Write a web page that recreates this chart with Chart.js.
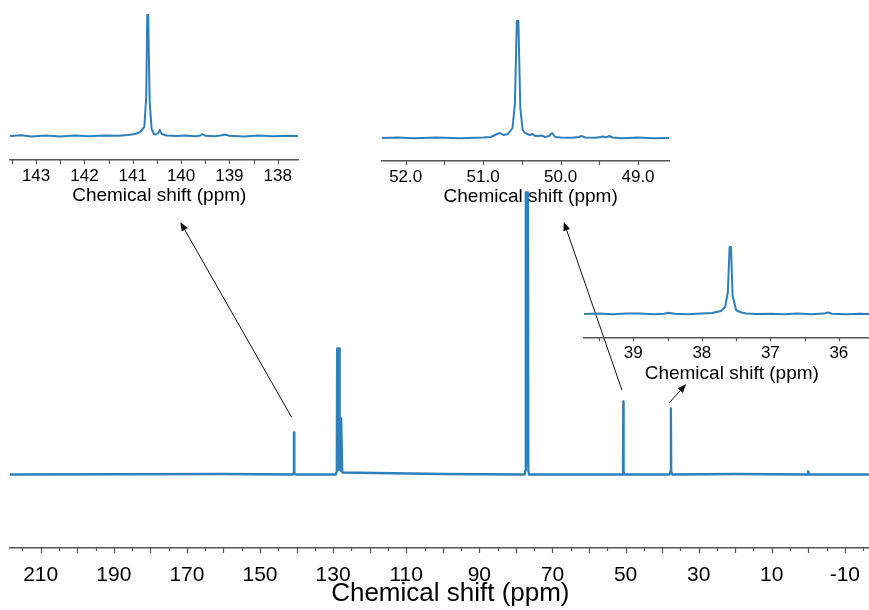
<!DOCTYPE html>
<html lang="en">
<head>
    <meta charset="UTF-8">
    <title>13C NMR spectrum</title>
    <style>
      * {
    margin: 0;
    padding: 0;
    box-sizing: border-box;
}

body {
    background: #fff;
    width: 869px;
    height: 610px;
    overflow: hidden;
}

#wrap {
    position: relative;
    width: 869px;
    height: 610px;
}

canvas {
    position: absolute;
}

#main   { left: 0;     top: 0; }
#inset1 { left: 0;     top: 0; }
#inset2 { left: 370px; top: 0; }
#inset3 { left: 580px; top: 230px; }
    </style>
</head>
<body>
    <div id="wrap">
        <canvas id="main" width="869" height="610"></canvas>
        <canvas id="inset1" width="310" height="210"></canvas>
        <canvas id="inset2" width="310" height="211"></canvas>
        <canvas id="inset3" width="289" height="157"></canvas>
    </div>
<script src="https://cdn.jsdelivr.net/npm/chart.js"></script>
    <script>
        // ---- data (ppm / intensity) ----
        const mainShift = [218.4, 160, 141.0, 140.8, 140.72, 140.68, 140.6, 140.3,
            129.3, 129.0, 128.9, 128.8, 128.6, 128.45, 128.35, 128.2, 127.9, 127.8, 127.7, 127.5,
            100, 77.6, 77.4, 77.3, 77.15, 77.0, 76.85, 76.7, 76.6, 76.4,
            60, 50.9, 50.7, 50.62, 50.58, 50.5, 50.3,
            38.0, 37.7, 37.62, 37.58, 37.5, 37.2, 20, 0.3, 0.1, 0.0, -0.2, -16.6];
        const mainIntensity = [0, 0.5, 0, 2, 42, 42, 2, 0,
            0, 3, 126, 126, 5, 126, 126, 6, 4, 56, 56, 2,
            0.5, 0, 4, 282, 10, 282, 10, 282, 4, 0,
            0, 0, 3, 73, 73, 3, 0,
            0, 3, 66, 66, 3, 0, 0.5, 0, 3, 3, 0, 0];
        const mainTickMarks = [215, 210, 205, 200, 195, 190, 185, 180, 175, 170, 165, 160, 155, 150,
            145, 140, 135, 130, 125, 120, 115, 110, 105, 100, 95, 90, 85, 80, 75, 70, 65, 60,
            55, 50, 45, 40, 35, 30, 25, 20, 15, 10, 5, 0, -5, -10, -15];
        const mainTickLabels = [210, 190, 170, 150, 130, 110, 90, 70, 50, 30, 10, -10];

        const inset1Shift = [143.54, 143.3, 143.1, 142.8, 142.5, 142.2, 141.9, 141.6, 141.3, 141.1,
            140.95, 140.85, 140.76, 140.72, 140.70, 140.68, 140.65, 140.61, 140.56, 140.52,
            140.47, 140.44, 140.40, 140.3, 140.1, 139.9, 139.7, 139.6, 139.56, 139.5, 139.3,
            139.15, 139.1, 139.0, 138.7, 138.4, 138.1, 137.8, 137.58];
        const inset1Intensity = [0, 0.8, -0.5, 0.4, -0.6, 0.5, -0.3, 0.6, 0.2, 1,
            2, 4, 9, 40, 121, 121, 35, 7, 2, 1.5,
            3, 6, 2, 0.5, 0, 0.6, -0.2, 0.5, 2, 0.3, -0.3,
            0.8, 1.5, 0.2, -0.4, 0.5, -0.3, 0.3, 0];
        const inset1TickMarks = [143.5, 143, 142.5, 142, 141.5, 141, 140.5, 140, 139.5, 139, 138.5, 138];
        const inset1TickLabels = [143, 142, 141, 140, 139, 138];

        const inset2Shift = [52.31, 52.1, 51.9, 51.6, 51.3, 51.0, 50.9, 50.82, 50.78, 50.74,
            50.68, 50.62, 50.59, 50.565, 50.545, 50.52, 50.49, 50.46, 50.43, 50.40, 50.36,
            50.33, 50.29, 50.25, 50.2, 50.15, 50.11, 50.07, 50.0, 49.85, 49.76, 49.73, 49.68,
            49.55, 49.48, 49.45, 49.41, 49.37, 49.33, 49.2, 49.0, 48.8, 48.6];
        const inset2Intensity = [0, 0.5, -0.3, 0.4, -0.2, 0.5, 1, 4, 5, 3,
            4, 10, 35, 117, 117, 30, 8, 5, 4, 3, 4,
            2, 2, 2.5, 1, 2, 5, 1, 0.5, 0.3, 1, 2, 0.5,
            0.2, 1, 1.5, 0.6, 2, 0.5, -0.3, 0.4, -0.2, 0];
        const inset2TickMarks = [52.0, 51.5, 51.0, 50.5, 50.0, 49.5, 49.0];
        const inset2TickLabels = [52.0, 51.0, 50.0, 49.0];

        const inset3Shift = [39.72, 39.5, 39.3, 39.1, 38.9, 38.7, 38.55, 38.49, 38.4, 38.2, 38.0,
            37.85, 37.72, 37.66, 37.62, 37.595, 37.575, 37.55, 37.5, 37.46, 37.42, 37.35, 37.2,
            37.0, 36.8, 36.6, 36.4, 36.22, 36.16, 36.1, 35.9, 35.7, 35.56];
        const inset3Intensity = [0, 0.4, -0.3, 0.5, 0.6, -0.2, 0.3, 1.2, 0.2, -0.3, 0.4,
            1, 3, 7, 22, 67, 67, 18, 4, 2.5, 1.5, 0.5, 0,
            0.3, -0.2, 0.4, -0.3, 0.4, 1.5, 0.2, -0.2, 0.3, 0];
        const inset3TickMarks = [39.5, 39, 38.5, 38, 37.5, 37, 36.5, 36];
        const inset3TickLabels = [39, 38, 37, 36];

        const lineColor = '#2f7fba';
        const axisColor = '#555';
        const fontFamily = "'Liberation Sans', Arial, sans-serif";

        // small tick marks under the x axis (minor + major)
        const tickMarks = {
            id: 'tickMarks',
            afterDraw(chart, args, opts) {
                if (!opts.values) return;
                const sx = chart.scales.x;
                const y0 = chart.chartArea.bottom;
                const ctx = chart.ctx;
                ctx.save();
                ctx.strokeStyle = axisColor;
                ctx.lineWidth = 1.2;
                opts.values.forEach(v => {
                    const isMajor = opts.majorStep ? Math.abs(v % opts.majorStep) < 1e-6 : true;
                    const len = isMajor ? opts.major : opts.minor;
                    const x = Math.round(sx.getPixelForValue(v)) + 0.5;
                    ctx.beginPath();
                    ctx.moveTo(x, y0);
                    ctx.lineTo(x, y0 + len);
                    ctx.stroke();
                });
                ctx.restore();
            }
        };

        // arrows from the peaks up to the zoomed panels
        const arrowPlugin = {
            id: 'arrows',
            afterDraw(chart, args, opts) {
                if (!opts.list) return;
                const sx = chart.scales.x, sy = chart.scales.y, ctx = chart.ctx;
                ctx.save();
                ctx.strokeStyle = '#111';
                ctx.fillStyle = '#111';
                ctx.lineWidth = 1;
                opts.list.forEach(a => {
                    const x1 = sx.getPixelForValue(a.from[0]), y1 = sy.getPixelForValue(a.from[1]);
                    const x2 = sx.getPixelForValue(a.to[0]), y2 = sy.getPixelForValue(a.to[1]);
                    const ang = Math.atan2(y2 - y1, x2 - x1);
                    const head = 9, half = 3.5;
                    const bx = x2 - head * Math.cos(ang), by = y2 - head * Math.sin(ang);
                    ctx.beginPath();
                    ctx.moveTo(x1, y1);
                    ctx.lineTo(bx, by);
                    ctx.stroke();
                    ctx.beginPath();
                    ctx.moveTo(x2, y2);
                    ctx.lineTo(bx + half * Math.sin(ang), by - half * Math.cos(ang));
                    ctx.lineTo(bx - half * Math.sin(ang), by + half * Math.cos(ang));
                    ctx.closePath();
                    ctx.fill();
                });
                ctx.restore();
            }
        };

        Chart.register(tickMarks, arrowPlugin);

        function toPoints(xs, ys) {
            return xs.map((x, i) => ({ x: x, y: ys[i] }));
        }

        // builds one spectrum chart
        function makeSpectrum(id, xs, ys, cfg) {
            return new Chart(document.getElementById(id), {
                type: 'line',
                data: {
                    datasets: [{
                        data: toPoints(xs, ys),
                        borderColor: lineColor,
                        borderWidth: cfg.lineWidth,
                        borderJoinStyle: 'round',
                        pointRadius: 0,
                        tension: 0,
                        fill: false
                    }]
                },
                options: {
                    responsive: false,
                    animation: false,
                    devicePixelRatio: 1,
                    layout: { padding: cfg.padding },
                    plugins: {
                        legend: { display: false },
                        tooltip: { enabled: false },
                        tickMarks: cfg.marks,
                        arrows: cfg.arrows || {}
                    },
                    scales: {
                        x: {
                            type: 'linear',
                            reverse: true,
                            min: cfg.xmin,
                            max: cfg.xmax,
                            // grid hidden, tickLength only used as label offset (marks drawn by plugin)
                            grid: { display: false, drawTicks: true, tickLength: cfg.tickLen },
                            border: { display: true, color: axisColor, width: 1.5 },
                            afterBuildTicks: (scale) => {
                                scale.ticks = cfg.labels.map(v => ({ value: v }));
                            },
                            ticks: {
                                autoSkip: false,
                                maxRotation: 0,
                                padding: 2,
                                color: '#000',
                                font: { family: fontFamily, size: cfg.tickSize, lineHeight: 1.2 },
                                callback: (v) => v.toFixed(cfg.decimals)
                            },
                            title: {
                                display: true,
                                // leading spaces nudge the centred title a little to the right, as in the figure
                                text: cfg.titleIndent + 'Chemical shift (ppm)',
                                color: '#000',
                                font: { family: fontFamily, size: cfg.titleSize, lineHeight: 1.2 },
                                padding: { top: cfg.titleTop, bottom: 0 }
                            }
                        },
                        y: {
                            display: false,
                            min: cfg.ymin,
                            max: cfg.ymax
                        }
                    }
                }
            });
        }

        makeSpectrum('main', mainShift, mainIntensity, {
            lineWidth: 2.3,
            padding: { top: 170, left: 10, right: 0, bottom: 0.4 },
            xmin: -16.6, xmax: 218.4,
            ymin: -73.5, ymax: 304.5,
            labels: mainTickLabels, decimals: 0,
            tickSize: 21, tickLen: 12.4,
            titleSize: 26, titleTop: -11.2, titleIndent: '   ',
            marks: { values: mainTickMarks, majorStep: 10, major: 5, minor: 3 },
            arrows: {
                list: [
                    { from: [141.4, 57.5], to: [171.8, 252.5] },
                    { from: [51.0, 84.5], to: [66.9, 252.8] },
                    { from: [38.1, 71.5], to: [33.4, 90.5] }
                ]
            }
        });

        makeSpectrum('inset1', inset1Shift, inset1Intensity, {
            lineWidth: 2,
            padding: { top: 8, left: 10, right: 12, bottom: 2.6 },
            xmin: 137.58, xmax: 143.54,
            ymin: -24, ymax: 128,
            labels: inset1TickLabels, decimals: 0,
            tickSize: 17, tickLen: 4,
            titleSize: 19, titleTop: -3.8, titleIndent: '  ',
            marks: { values: inset1TickMarks, major: 4, minor: 4 }
        });

        makeSpectrum('inset2', inset2Shift, inset2Intensity, {
            lineWidth: 2,
            padding: { top: 8, left: 11.7, right: 11, bottom: 2.6 },
            xmin: 48.6, xmax: 52.31,
            ymin: -23, ymax: 130,
            labels: inset2TickLabels, decimals: 1,
            tickSize: 17, tickLen: 4,
            titleSize: 19, titleTop: -3.8, titleIndent: '  ',
            marks: { values: inset2TickMarks, major: 4, minor: 4 }
        });

        makeSpectrum('inset3', inset3Shift, inset3Intensity, {
            lineWidth: 2,
            padding: { top: 8, left: 4, right: 0, bottom: 2.3 },
            xmin: 35.56, xmax: 39.72,
            ymin: -23.3, ymax: 76,
            labels: inset3TickLabels, decimals: 0,
            tickSize: 17, tickLen: 4,
            titleSize: 19, titleTop: -3.8, titleIndent: '  ',
            marks: { values: inset3TickMarks, major: 4, minor: 4 }
        });
    </script>
</body>
</html>
